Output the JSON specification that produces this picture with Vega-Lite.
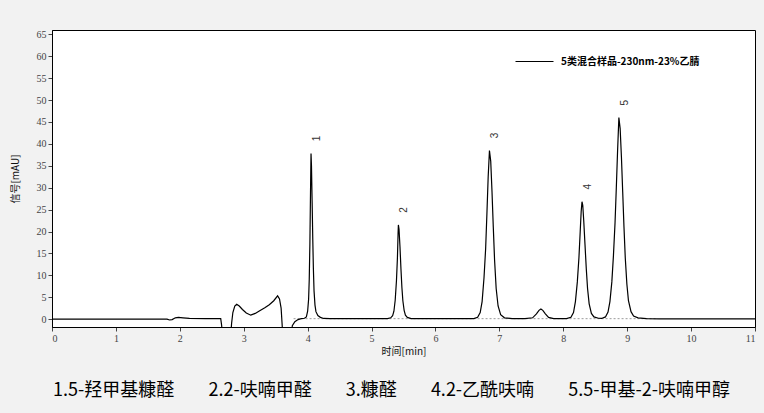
{
  "$schema": "https://vega.github.io/schema/vega-lite/v6.json",
  "autosize": {"type": "none"},
  "padding": {"left": 52, "top": 30, "right": 9, "bottom": 86},
  "width": 703,
  "height": 297,
  "background": "#f2f2f2",
  "config": {
    "view": {"stroke": "#000000", "strokeWidth": 1, "fill": "#ffffff"},
    "font": "Liberation Serif"
  },
  "title": {
    "text": "1.5-羟甲基糠醛\u3000\u00a0\u00a0\u00a0\u00a02.2-呋喃甲醛\u3000\u00a0\u00a0\u00a0\u00a03.糠醛\u3000\u00a0\u00a0\u00a0\u00a04.2-乙酰呋喃\u3000\u00a0\u00a0\u00a0\u00a05.5-甲基-2-呋喃甲醇",
    "orient": "bottom",
    "anchor": "middle",
    "frame": "group",
    "offset": 26,
    "dx": -12,
    "font": "Noto Sans CJK SC",
    "fontSize": 18,
    "fontWeight": "normal",
    "color": "#000000"
  },
  "datasets": {
    "trace": [
      {"t": 0, "v": 0}, {"t": 1.0, "v": 0}, {"t": 1.8, "v": 0}, {"t": 1.84, "v": -0.2}, {"t": 1.88, "v": -0.1},
      {"t": 1.93, "v": 0.3}, {"t": 1.98, "v": 0.4}, {"t": 2.05, "v": 0.3}, {"t": 2.15, "v": 0.15}, {"t": 2.4, "v": 0.1},
      {"t": 2.64, "v": 0.1}, {"t": 2.655, "v": -1.5}, {"t": 2.67, "v": -5}, {"t": 2.79, "v": -5}, {"t": 2.81, "v": -1},
      {"t": 2.83, "v": 1.5}, {"t": 2.86, "v": 3.0}, {"t": 2.89, "v": 3.4}, {"t": 2.93, "v": 3.0}, {"t": 2.98, "v": 2.2},
      {"t": 3.04, "v": 1.4}, {"t": 3.11, "v": 0.9}, {"t": 3.18, "v": 1.3}, {"t": 3.25, "v": 1.9}, {"t": 3.33, "v": 2.6},
      {"t": 3.4, "v": 3.3}, {"t": 3.47, "v": 4.2}, {"t": 3.53, "v": 5.3}, {"t": 3.56, "v": 4.6}, {"t": 3.585, "v": 2.5},
      {"t": 3.6, "v": -1}, {"t": 3.615, "v": -5}, {"t": 3.74, "v": -5}, {"t": 3.76, "v": -1.5}, {"t": 3.8, "v": -0.6},
      {"t": 3.85, "v": -0.1}, {"t": 3.9, "v": 0.1}, {"t": 3.95, "v": 0.2}, {"t": 3.98, "v": 0.5}, {"t": 4.0, "v": 1.8},
      {"t": 4.015, "v": 4.5}, {"t": 4.025, "v": 9}, {"t": 4.035, "v": 17}, {"t": 4.045, "v": 29}, {"t": 4.053, "v": 37.8},
      {"t": 4.06, "v": 35}, {"t": 4.07, "v": 27}, {"t": 4.08, "v": 18.5}, {"t": 4.09, "v": 11.5}, {"t": 4.1, "v": 6.5},
      {"t": 4.115, "v": 3.2}, {"t": 4.13, "v": 1.7}, {"t": 4.16, "v": 0.8}, {"t": 4.2, "v": 0.4}, {"t": 4.25, "v": 0.15},
      {"t": 4.35, "v": 0.1}, {"t": 5.25, "v": 0.1}, {"t": 5.3, "v": 0.3}, {"t": 5.33, "v": 0.8}, {"t": 5.35, "v": 1.8},
      {"t": 5.37, "v": 4.3}, {"t": 5.39, "v": 8.8}, {"t": 5.405, "v": 14}, {"t": 5.415, "v": 19.5}, {"t": 5.42, "v": 21.5},
      {"t": 5.43, "v": 20.5}, {"t": 5.445, "v": 16.5}, {"t": 5.46, "v": 11.5}, {"t": 5.475, "v": 7.2}, {"t": 5.49, "v": 4.2},
      {"t": 5.51, "v": 2.0}, {"t": 5.53, "v": 0.9}, {"t": 5.56, "v": 0.4}, {"t": 5.62, "v": 0.1}, {"t": 6.6, "v": 0.1},
      {"t": 6.66, "v": 0.4}, {"t": 6.7, "v": 1.5}, {"t": 6.73, "v": 4}, {"t": 6.76, "v": 9.5}, {"t": 6.785, "v": 16},
      {"t": 6.805, "v": 24}, {"t": 6.825, "v": 32.5}, {"t": 6.845, "v": 38.5}, {"t": 6.865, "v": 36}, {"t": 6.885, "v": 29},
      {"t": 6.905, "v": 21}, {"t": 6.925, "v": 13.5}, {"t": 6.95, "v": 7}, {"t": 6.98, "v": 3}, {"t": 7.02, "v": 1},
      {"t": 7.08, "v": 0.3}, {"t": 7.2, "v": 0.1}, {"t": 7.4, "v": 0.1}, {"t": 7.52, "v": 0.3}, {"t": 7.58, "v": 1.2},
      {"t": 7.62, "v": 2.0}, {"t": 7.65, "v": 2.3}, {"t": 7.68, "v": 2.0}, {"t": 7.72, "v": 1.2}, {"t": 7.77, "v": 0.4},
      {"t": 7.85, "v": 0.1}, {"t": 8.05, "v": 0.1}, {"t": 8.12, "v": 0.4}, {"t": 8.16, "v": 1.5}, {"t": 8.19, "v": 4},
      {"t": 8.22, "v": 8.5}, {"t": 8.245, "v": 14}, {"t": 8.265, "v": 20}, {"t": 8.28, "v": 24.5}, {"t": 8.293, "v": 26.8},
      {"t": 8.305, "v": 26}, {"t": 8.32, "v": 22.5}, {"t": 8.34, "v": 17}, {"t": 8.36, "v": 11.5}, {"t": 8.38, "v": 7},
      {"t": 8.405, "v": 3.5}, {"t": 8.44, "v": 1.3}, {"t": 8.48, "v": 0.5}, {"t": 8.55, "v": 0.2}, {"t": 8.6, "v": 0.15},
      {"t": 8.66, "v": 0.5}, {"t": 8.7, "v": 1.6}, {"t": 8.73, "v": 4}, {"t": 8.76, "v": 8.5}, {"t": 8.785, "v": 14.5},
      {"t": 8.81, "v": 22}, {"t": 8.83, "v": 30}, {"t": 8.85, "v": 38.5}, {"t": 8.87, "v": 46}, {"t": 8.89, "v": 43.5},
      {"t": 8.91, "v": 37}, {"t": 8.93, "v": 29}, {"t": 8.95, "v": 21}, {"t": 8.97, "v": 14}, {"t": 8.995, "v": 8},
      {"t": 9.02, "v": 4.2}, {"t": 9.06, "v": 1.7}, {"t": 9.1, "v": 0.7}, {"t": 9.17, "v": 0.3}, {"t": 9.3, "v": 0.1},
      {"t": 9.5, "v": 0.05}, {"t": 11, "v": 0.05}
    ],
    "base": [
      {"t": 3.78, "v": 0.1}, {"t": 9.45, "v": 0.1}
    ],
    "peaks": [
      {"t": 4.053, "v": 37.8, "label": "1"},
      {"t": 5.42, "v": 21.5, "label": "2"},
      {"t": 6.845, "v": 38.5, "label": "3"},
      {"t": 8.293, "v": 26.8, "label": "4"},
      {"t": 8.87, "v": 46, "label": "5"}
    ]
  },
  "encoding": {
    "x": {
      "field": "t", "type": "quantitative",
      "scale": {"domain": [0, 11], "nice": false},
      "axis": {
        "title": "时间[min]", "values": [0,1,2,3,4,5,6,7,8,9,10,11], "format": "d", "labelOverlap": false,
        "grid": false, "domainColor": "#000000", "tickColor": "#444444", "tickSize": 4,
        "labelColor": "#444444", "labelFont": "Liberation Serif", "labelFontSize": 10, "labelPadding": 2,
        "titleFont": "Noto Sans CJK SC", "titleFontSize": 10, "titleFontWeight": "normal", "titleColor": "#111111", "titlePadding": 3
      }
    },
    "y": {
      "field": "v", "type": "quantitative",
      "scale": {"domain": [-1.8, 66], "nice": false, "zero": false},
      "axis": {
        "title": "信号[mAU]", "values": [0,5,10,15,20,25,30,35,40,45,50,55,60,65], "format": "d", "labelOverlap": false,
        "grid": false, "domainColor": "#000000", "tickColor": "#444444", "tickSize": 4,
        "labelColor": "#444444", "labelFont": "Liberation Serif", "labelFontSize": 10, "labelPadding": 2,
        "titleFont": "Noto Sans CJK SC", "titleFontSize": 10, "titleFontWeight": "normal", "titleColor": "#111111", "titlePadding": 16
      }
    }
  },
  "layer": [
    {
      "data": {"name": "base"},
      "mark": {"type": "line", "color": "#9a9a9a", "strokeWidth": 1, "strokeDash": [2, 2], "clip": true}
    },
    {
      "data": {"name": "trace"},
      "mark": {"type": "line", "strokeWidth": 1.2, "clip": true},
      "encoding": {
        "color": {
          "datum": "5类混合样品-230nm-23%乙腈",
          "type": "nominal",
          "scale": {"range": ["#000000"]},
          "legend": {
            "title": null, "orient": "none", "legendX": 463, "legendY": 12,
            "symbolType": "stroke", "symbolSize": 1444, "symbolStrokeWidth": 1,
            "labelFont": "Noto Sans CJK SC", "labelFontSize": 10, "labelFontWeight": "bold", "labelColor": "#000000",
            "labelOffset": 7
          }
        }
      }
    },
    {
      "data": {"name": "peaks"},
      "mark": {"type": "text", "angle": 270, "fontSize": 10, "font": "Liberation Sans", "color": "#333333", "align": "center", "baseline": "middle", "dx": 15, "dy": 6},
      "encoding": {
        "text": {"field": "label"}
      }
    }
  ]
}
